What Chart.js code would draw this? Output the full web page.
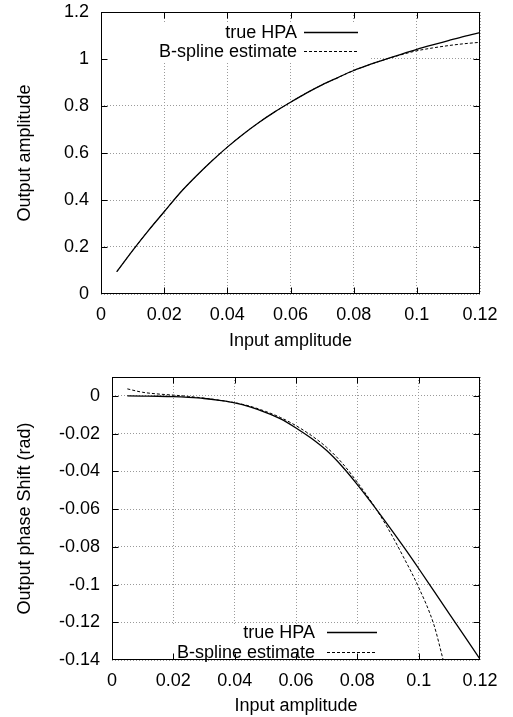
<!DOCTYPE html>
<html>
<head>
<meta charset="utf-8">
<script src="https://cdn.jsdelivr.net/npm/chart.js@4"></script>
<style>
  body { margin: 0; background: #fff; }
  canvas { display: block; }
</style>
</head>
<body>
<canvas id="ampChart" width="513" height="360"></canvas>
<canvas id="phaseChart" width="513" height="357"></canvas>
<script>
// input amplitude samples (x axis)
const inputAmp = [0.005, 0.01, 0.015, 0.02, 0.025, 0.03, 0.035, 0.04, 0.045, 0.05, 0.055, 0.06,
                  0.065, 0.07, 0.075, 0.08, 0.085, 0.09, 0.095, 0.1, 0.105, 0.11, 0.115, 0.12];

// amplitude curves
const ampTrue   = [0.095, 0.185, 0.27, 0.35, 0.43, 0.50, 0.565, 0.625, 0.68, 0.73, 0.775, 0.816,
                   0.855, 0.89, 0.921, 0.951, 0.976, 0.998, 1.02, 1.041, 1.06, 1.078, 1.096, 1.112];
const ampSpline = [0.095, 0.185, 0.27, 0.35, 0.43, 0.50, 0.565, 0.625, 0.68, 0.73, 0.775, 0.816,
                   0.855, 0.89, 0.921, 0.951, 0.976, 0.998, 1.018, 1.035, 1.047, 1.057, 1.065, 1.071];

// phase curves
const phaseTrue = [0, -0.0001, -0.0002, -0.0004, -0.0008, -0.0014, -0.0024, -0.0037, -0.0058, -0.0087,
                   -0.0122, -0.017, -0.0225, -0.029, -0.0373, -0.047, -0.0575, -0.0685, -0.0798,
                   -0.0915, -0.1035, -0.1155, -0.1275, -0.1395];
const splinePhaseX = [0.005, 0.01, 0.015, 0.02, 0.025, 0.03, 0.035, 0.04, 0.045, 0.05, 0.055, 0.06,
                      0.065, 0.07, 0.075, 0.08, 0.085, 0.09, 0.095, 0.1, 0.105, 0.108];
const phaseSpline = [0.0037, 0.0019, 0.001, 0.0004, -0.0003, -0.0012, -0.0023, -0.0036, -0.0055, -0.0082,
                     -0.0115, -0.0158, -0.021, -0.0273, -0.0355, -0.0458, -0.0572, -0.0703, -0.0853,
                     -0.1015, -0.1215, -0.14];

// tick labels
const xTicks = [0, 0.02, 0.04, 0.06, 0.08, 0.1, 0.12];
const ampTicks = [0, 0.2, 0.4, 0.6, 0.8, 1, 1.2];
const phaseTicks = [-0.14, -0.12, -0.1, -0.08, -0.06, -0.04, -0.02, 0];

const seriesNames = ['true HPA', 'B-spline estimate'];

Chart.defaults.font.family = '"Liberation Sans", Arial, Helvetica, sans-serif';
Chart.defaults.font.size = 18;
Chart.defaults.color = '#000';

function fmt(v) {
    return String(parseFloat(v.toFixed(2)));
}

function toPoints(xs, ys) {
    return xs.map((x, i) => ({ x: x, y: ys[i] }));
}

// gnuplot style: key box, full frame, inward tick marks
const gnuplotFrame = {
    id: 'gnuplotFrame',
    beforeDatasetsDraw(chart, args, opts) {
        const ctx = chart.ctx;
        const b = opts.box;
        ctx.save();
        ctx.fillStyle = '#fff';
        ctx.fillRect(b.left, b.top, b.right - b.left, b.bottom - b.top);
        ctx.restore();
    },
    afterDatasetsDraw(chart, args, opts) {
        const ctx = chart.ctx;
        const a = chart.chartArea;
        const xs = chart.scales.x;
        const ys = chart.scales.y;
        const L = Math.round(a.left) + 0.5, R = Math.round(a.right) - 0.5;
        const T = Math.round(a.top) + 0.5, B = Math.round(a.bottom) - 0.5;
        ctx.save();
        ctx.strokeStyle = '#000';
        ctx.lineWidth = 1;
        ctx.setLineDash([]);
        ctx.beginPath();
        xs.ticks.forEach(t => {
            const p = Math.round(xs.getPixelForValue(t.value)) + 0.5;
            if (p <= L + 1 || p >= R - 1) return;
            ctx.moveTo(p, B); ctx.lineTo(p, B - 6);
            ctx.moveTo(p, T); ctx.lineTo(p, T + 6);
        });
        ys.ticks.forEach(t => {
            const p = Math.round(ys.getPixelForValue(t.value)) + 0.5;
            if (p <= T + 1 || p >= B - 1) return;
            ctx.moveTo(L, p); ctx.lineTo(L + 6, p);
            ctx.moveTo(R, p); ctx.lineTo(R - 6, p);
        });
        ctx.stroke();
        ctx.strokeRect(L, T, R - L, B - T);

        // key
        ctx.font = '18px "Liberation Sans", Arial, sans-serif';
        ctx.fillStyle = '#000';
        ctx.textAlign = 'right';
        ctx.textBaseline = 'middle';
        chart.data.datasets.forEach((ds, i) => {
            const y = opts.rows[i];
            ctx.fillText(ds.label, opts.textRight, y + 1);
            ctx.beginPath();
            ctx.lineWidth = ds.borderWidth;
            ctx.setLineDash(ds.borderDash || []);
            ctx.moveTo(opts.lineStart, Math.round(y) + 0.5);
            ctx.lineTo(opts.lineEnd, Math.round(y) + 0.5);
            ctx.stroke();
        });
        ctx.restore();
    }
};

function makeChart(id, cfg) {
    const el = document.getElementById(id);
    if (!el) {
        console.error('Elemento ' + id + ' não encontrado');
        return;
    }
    new Chart(el.getContext('2d'), {
        type: 'line',
        data: {
            datasets: [
                {
                    label: seriesNames[0],
                    data: cfg.trueData,
                    borderColor: '#000',
                    borderWidth: 1.3,
                    pointRadius: 0,
                    cubicInterpolationMode: 'monotone'
                },
                {
                    label: seriesNames[1],
                    data: cfg.splineData,
                    borderColor: '#000',
                    borderWidth: 1,
                    borderDash: [3, 2],
                    pointRadius: 0,
                    cubicInterpolationMode: 'monotone'
                }
            ]
        },
        options: {
            responsive: false,
            animation: false,
            events: [],
            layout: { padding: { top: cfg.padTop, right: 33, left: 0, bottom: 0 } },
            scales: {
                x: {
                    type: 'linear',
                    min: 0,
                    max: 0.12,
                    afterBuildTicks: s => { s.ticks = xTicks.map(v => ({ value: v })); },
                    afterFit: s => {
                        s.height = cfg.xHeight;
                        s.paddingLeft = 0;
                        s.paddingRight = 0;
                    },
                    grid: { color: '#9a9a9a', lineWidth: 1, drawTicks: false },
                    border: { display: false, dash: [1, 2] },
                    ticks: { padding: 10, maxRotation: 0, autoSkip: false, callback: v => fmt(v) },
                    title: { display: true, text: 'Input amplitude', padding: { top: 0, bottom: cfg.xTitlePad } }
                },
                y: {
                    type: 'linear',
                    min: cfg.yMin,
                    max: cfg.yMax,
                    afterBuildTicks: s => { s.ticks = cfg.yTicks.map(v => ({ value: v })); },
                    afterFit: s => {
                        s.width = cfg.yWidth;
                        s.paddingTop = 0;
                        s.paddingBottom = 0;
                    },
                    grid: { color: '#9a9a9a', lineWidth: 1, drawTicks: false },
                    border: { display: false, dash: [1, 2] },
                    ticks: { padding: 12, autoSkip: false, callback: v => fmt(v) },
                    title: { display: true, text: cfg.yTitle, padding: { top: 14, bottom: 0 } }
                }
            },
            plugins: {
                legend: { display: false },
                tooltip: { enabled: false },
                gnuplotFrame: cfg.key
            }
        },
        plugins: [gnuplotFrame]
    });
}

document.addEventListener('DOMContentLoaded', function() {
    makeChart('ampChart', {
        trueData: toPoints(inputAmp, ampTrue),
        splineData: toPoints(inputAmp, ampSpline),
        yMin: 0, yMax: 1.2, yTicks: ampTicks,
        yTitle: 'Output amplitude',
        padTop: 12, xHeight: 66, yWidth: 101, xTitlePad: 8,
        key: {
            box: { left: 101, right: 370, top: 23, bottom: 62 },
            rows: [32, 51], textRight: 297, lineStart: 304, lineEnd: 358
        }
    });

    makeChart('phaseChart', {
        trueData: toPoints(inputAmp, phaseTrue),
        splineData: toPoints(splinePhaseX, phaseSpline),
        yMin: -0.14, yMax: 0.01, yTicks: phaseTicks,
        yTitle: 'Output phase Shift (rad)',
        padTop: 17, xHeight: 57, yWidth: 112, xTitlePad: 0,
        key: {
            box: { left: 165, right: 385, top: 264, bottom: 300 },
            rows: [272, 292], textRight: 315, lineStart: 327, lineEnd: 377
        }
    });
});
</script>
</body>
</html>
